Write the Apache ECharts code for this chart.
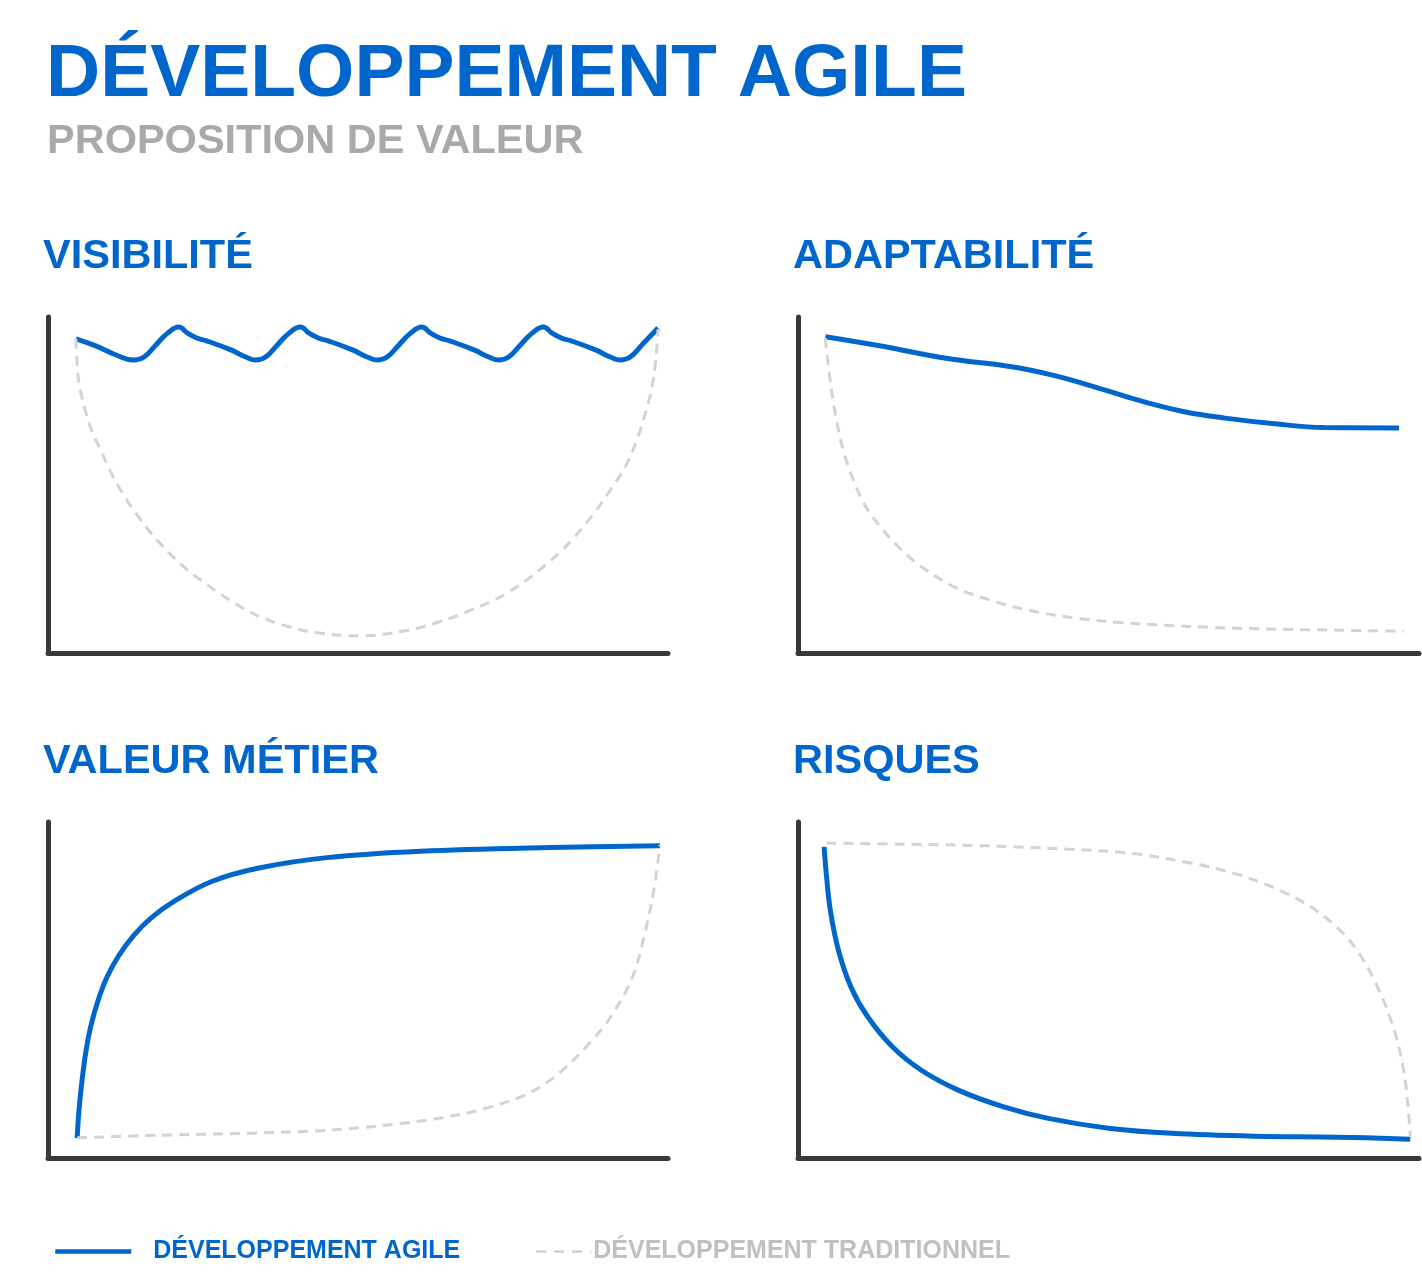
<!DOCTYPE html>
<html>
<head>
<meta charset="utf-8">
<script src="https://cdn.jsdelivr.net/npm/echarts@6/dist/echarts.min.js"></script>
<style>
  html, body { margin: 0; padding: 0; background: #ffffff; }
  #chart { width: 1422px; height: 1282px; }
</style>
</head>
<body>
<div id="chart"></div>
<script>
// ---- Text ----
const mainTitle = 'DÉVELOPPEMENT AGILE';
const subTitle = 'PROPOSITION DE VALEUR';
const panelTitles = ['VISIBILITÉ', 'ADAPTABILITÉ', 'VALEUR MÉTIER', 'RISQUES'];
const seriesNames = ['DÉVELOPPEMENT AGILE', 'DÉVELOPPEMENT TRADITIONNEL'];

// ---- Data (x: 0-100 time, y: 0-100 level) ----
const visibiliteAgile = [
  [4.5,93.5],[7.7,91.4],[11.0,88.7],[13.8,87.2],
  [15.5,88.1],[17.4,91.7],[19.3,95.2],[21.1,97.0],[22.5,95.2],[24.0,93.75],[25.6,92.9],[29.5,90.2],[31.9,88.1],[33.5,87.2],
  [35.1,88.1],[37.0,91.7],[38.9,95.2],[40.7,97.0],[42.1,95.2],[43.6,93.75],[45.2,92.9],[49.1,90.2],[51.5,88.1],[53.1,87.2],
  [54.7,88.1],[56.6,91.7],[58.5,95.2],[60.3,97.0],[61.7,95.2],[63.2,93.75],[64.8,92.9],[68.7,90.2],[71.1,88.1],[72.7,87.2],
  [74.3,88.1],[76.2,91.7],[78.1,95.2],[79.9,97.0],[81.3,95.2],[82.8,93.75],[84.4,92.9],[88.3,90.2],[90.7,88.1],[92.3,87.2],
  [93.9,88.1],[95.8,91.7],[98.4,96.7]
];
const visibiliteTraditionnel = [
  [4.5,93.5],[4.7,86],[5.0,80.4],[6.0,72.3],[7.1,66],[8.5,60.4],[10.1,54],[12.0,47.6],[14.6,40.5],[17.6,33.6],
  [21.2,26.8],[25.3,20.8],[29.7,15.3],[34.3,10.7],[38.9,7.8],[43.5,6.0],[50.4,5.1],[58.1,6.8],[62.6,9.0],[67.1,11.9],
  [74.1,17.9],[81.2,27.7],[84.8,34.3],[88.1,41.7],[90.8,48.8],[93.1,55.4],[95.0,63.5],[96.5,72.3],[97.4,79],[97.9,85.1],
  [98.2,91],[98.4,96.4]
];
const adaptabiliteAgile = [
  [4.4,94.1],[13.8,91.2],[23.8,87.7],[34.4,85.2],[41.0,82.7],[47.6,79.3],[55.6,74.8],[62.2,71.8],[68.8,69.9],
  [76.8,68.2],[84.7,67.1],[96.8,67.0]
];
const adaptabiliteTraditionnel = [
  [4.4,93.7],[4.9,85.2],[5.9,72.3],[7.2,61],[8.8,52],[10.8,44],[13.5,37],[16.5,31],[19.5,26.2],[25.1,19.7],[31.7,15.3],
  [38.3,12.3],[45.0,10.3],[52.3,9.0],[58.9,8.3],[66.8,7.6],[76.8,7.1],[86.7,6.8],[97.5,6.5]
];
const valeurAgile = [
  [4.7,5.9],[5.0,14.3],[5.5,23.2],[6.1,31.5],[6.9,39.2],[8.1,47.0],[9.5,53.8],[11.4,60.2],[13.8,66.2],[16.6,71.4],
  [20.5,76.6],[26.4,82.3],[34.0,86.3],[45.0,89.4],[60.1,91.3],[81.0,92.4],[98.7,92.9]
];
const valeurTraditionnel = [
  [4.7,6.0],[18.3,6.8],[32.2,7.35],[42.7,8.0],[49.7,8.9],[56.6,10.2],[63.6,12.0],[70.6,14.8],[77.6,19.3],[82.4,25.2],
  [87.3,34.1],[90.8,42.1],[94.3,54.0],[96.4,67.9],[97.8,80.7],[98.7,93.2]
];
const risquesAgile = [
  [4.2,92.6],[4.6,83.7],[5.2,73.8],[6.5,61.9],[8.5,51.0],[11.2,42.1],[15.2,33.1],[19.8,26.2],[25.8,20.2],[33.0,15.3],
  [40.3,11.8],[50.3,8.8],[60.2,7.35],[73.5,6.5],[86.7,6.2],[98.6,5.6]
];
const risquesTraditionnel = [
  [4.6,93.7],[17.1,93.4],[30.4,92.9],[43.6,91.9],[53.6,90.7],[63.5,87.7],[70.2,84.7],[76.8,80.3],[82.1,75.3],[86.7,68.8],
  [90.0,61.9],[93.3,51.0],[96.0,38.1],[97.7,24.2],[98.6,6.3]
];

const panels = [
  { agile: visibiliteAgile, trad: visibiliteTraditionnel, smoothA: 0.45, smoothT: 0.4 },
  { agile: adaptabiliteAgile, trad: adaptabiliteTraditionnel, smoothA: 0.4, smoothT: 0.35 },
  { agile: valeurAgile, trad: valeurTraditionnel, smoothA: 0.35, smoothT: 0.35 },
  { agile: risquesAgile, trad: risquesTraditionnel, smoothA: 0.35, smoothT: 0.35 }
];

// ---- Styles ----
const FONT = '"Liberation Sans", Arial, Helvetica, sans-serif';
const BLUE = '#0066CC';
const GREY_LINE = '#D3D3D3';
const AXIS = '#383838';

const gridLayout = [
  { left: 48, top: 317, width: 620, height: 336 },
  { left: 798, top: 317, width: 621, height: 336 },
  { left: 48, top: 822, width: 620, height: 336 },
  { left: 798, top: 822, width: 621, height: 336 }
];
const titlePos = [
  { left: 43, top: 237 }, { left: 793, top: 237 },
  { left: 43, top: 742 }, { left: 793, top: 742 }
];

const axisCommon = {
  type: 'value', min: 0, max: 100,
  axisLine: { show: true, onZero: false, lineStyle: { color: AXIS, width: 5 } },
  axisTick: { show: false }, axisLabel: { show: false }, splitLine: { show: false }
};

const option = {
  backgroundColor: '#ffffff',
  animation: false,
  title: [
    { text: mainTitle, left: 46, top: 38, padding: 0,
      textStyle: { color: BLUE, fontSize: 75, fontWeight: 'bold', fontFamily: FONT, lineHeight: 75 } },
    { text: subTitle, left: 47, top: 121, padding: 0,
      textStyle: { color: '#AAA8A8', fontSize: 41.5, fontWeight: 'bold', fontFamily: FONT, lineHeight: 41 } }
  ].concat(panelTitles.map((t, i) => ({
    text: t, left: titlePos[i].left, top: titlePos[i].top, padding: 0,
    textStyle: { color: BLUE, fontSize: 41.5, fontWeight: 'bold', fontFamily: FONT, lineHeight: 40 }
  }))),
  legend: [
    { data: [seriesNames[0]], left: 53, top: 1239, padding: 0, itemWidth: 76, itemHeight: 14, selectedMode: false,
      itemStyle: { opacity: 0 }, lineStyle: { width: 4.5, color: BLUE },
      textStyle: { color: BLUE, fontSize: 25, fontWeight: 'bold', fontFamily: FONT, padding: [0, 0, 0, 17] } },
    { data: [seriesNames[1]], left: 535, top: 1239, padding: 0, itemWidth: 55, itemHeight: 14, selectedMode: false,
      itemStyle: { opacity: 0 }, lineStyle: { width: 2.5, color: '#D0D0D0', type: [10, 8] },
      textStyle: { color: '#C0C0C0', fontSize: 25, fontWeight: 'bold', fontFamily: FONT, padding: [0, 0, 0, -3] } }
  ],
  grid: gridLayout,
  xAxis: gridLayout.map((g, i) => Object.assign({ gridIndex: i }, axisCommon)),
  yAxis: gridLayout.map((g, i) => Object.assign({ gridIndex: i }, axisCommon)),
  series: []
};

panels.forEach((p, i) => {
  option.series.push({
    name: seriesNames[0], type: 'line', xAxisIndex: i, yAxisIndex: i,
    data: p.agile, smooth: p.smoothA, symbol: 'none', z: 3,
    lineStyle: { color: BLUE, width: 5 }, itemStyle: { color: BLUE }
  });
  option.series.push({
    name: seriesNames[1], type: 'line', xAxisIndex: i, yAxisIndex: i,
    data: p.trad, smooth: p.smoothT, symbol: 'none', z: 4,
    lineStyle: { color: GREY_LINE, width: 3, type: [10, 7] }, itemStyle: { color: GREY_LINE }
  });
});

const chart = echarts.init(document.getElementById('chart'), null, { renderer: 'canvas' });
chart.setOption(option);
</script>
</body>
</html>
